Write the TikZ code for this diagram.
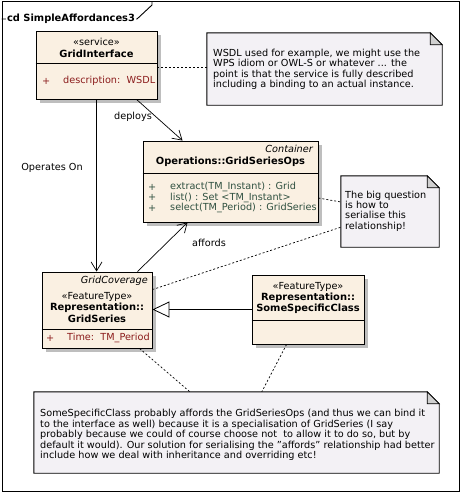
\documentclass[tikz,border=0pt]{standalone}
\usepackage{fontspec}
\setmainfont{DejaVu Sans}
\usetikzlibrary{arrows.meta,shadows}
\definecolor{classfill}{HTML}{FAF0E2}
\definecolor{notefill}{HTML}{F3F1F5}
\definecolor{shadowc}{HTML}{BEBEBE}
\definecolor{foldc}{HTML}{D0D0D0}
\definecolor{attrc}{HTML}{8B1C1C}
\definecolor{opc}{HTML}{2F5040}
\tikzset{
  txt/.style={font=\fontsize{9.7}{10.4}\selectfont, inner sep=0pt},
  bold/.style={txt, font=\fontsize{9.9}{10.4}\selectfont\bfseries},
  ital/.style={txt, font=\fontsize{9.7}{10.4}\selectfont\itshape},
  classbox/.style={draw=black, line width=0.9pt, fill=classfill, inner sep=0pt,
    drop shadow={shadow xshift=4pt, shadow yshift=-4pt, fill=shadowc, opacity=1}},
  notebox/.style={inner sep=0pt},
  noteline/.style={draw=black, line width=0.9pt, fill=notefill},
  divider/.style={line width=0.9pt},
  assoc/.style={line width=0.7pt, -{Straight Barb[length=9pt,width=11pt,line width=0.7pt]}},
  gen/.style={line width=0.8pt, -{Triangle[open,length=17pt,width=16pt,line width=0.8pt,fill=white]}},
  anchorline/.style={line width=0.7pt, dash pattern=on 2pt off 2pt},
  attr/.style={txt, text=attrc},
  oper/.style={txt, text=opc}
}
\newcommand{\drawnote}[1]{%
  \path[noteline] (#1.south west) -- (#1.north west) -- ([xshift=-12pt]#1.north east)
    -- ([yshift=-12pt]#1.north east) -- (#1.south east) -- cycle;
  \path[draw=black, line width=0.7pt, fill=foldc] ([xshift=-12pt]#1.north east)
    -- ([xshift=-12pt,yshift=-12pt]#1.north east) -- ([yshift=-12pt]#1.north east) -- cycle;}
\begin{document}
\begin{tikzpicture}[x=1pt,y=-1pt]
\useasboundingbox (0,0) rectangle (461,493);
% frame
\node[draw=black, line width=0.9pt, minimum width=457pt, minimum height=489.5pt, inner sep=0pt] (frame) at (230.5,246.25) {};
\coordinate (tabA) at (137,19);
\coordinate (tabB) at (152,5);
\draw[line width=0.9pt] (frame.west |- tabA) -- (tabA) -- (tabB) -- (tabB |- frame.north);
\node[bold, fill=white, inner xsep=1pt, inner ysep=2pt] (title) at (71,19) {cd SimpleAffordances3};

% GridInterface
\node[classbox, minimum width=121pt, minimum height=68pt] (gi) at (96.5,65) {};
\draw[divider] (gi.west |- 0,63) -- (gi.east |- 0,63);
\node[txt] (gis) at (96.5,42) {«service»};
\node[bold] (gin) at (96.5,53.5) {GridInterface};
\node[attr, anchor=west] (gip) at (42,81) {+};
\node[attr, anchor=west] (gia) at (63,81) {description:\ \ WSDL};

% Operations
\node[classbox, minimum width=175pt, minimum height=81pt] (ops) at (230.5,181.5) {};
\draw[divider] (ops.west |- 0,173) -- (ops.east |- 0,173);
\node[ital, anchor=east] (opsst) at (313,149) {Container};
\node[bold] (opsn) at (230.5,162) {Operations::GridSeriesOps};
\node[oper, anchor=west] (opp1) at (148,187) {+};
\node[oper, anchor=west] (opp2) at (148,197.5) {+};
\node[oper, anchor=west] (opp3) at (148,208) {+};
\node[oper, anchor=west] (opo1) at (170,187) {extract(TM\_Instant) : Grid};
\node[oper, anchor=west] (opo2) at (170,197.5) {list() : Set <TM\_Instant>};
\node[oper, anchor=west] (opo3) at (170,208) {select(TM\_Period) : GridSeries};

% GridSeries
\node[classbox, minimum width=110pt, minimum height=76pt] (gs) at (97,310) {};
\draw[divider] (gs.west |- 0,329) -- (gs.east |- 0,329);
\node[ital, anchor=east] (gsst) at (148,281) {GridCoverage};
\node[txt] (gsft) at (97,297) {«FeatureType»};
\node[bold] (gsn1) at (97,308) {Representation::};
\node[bold] (gsn2) at (97,319) {GridSeries};
\node[attr, anchor=west] (gsp) at (46,338) {+};
\node[attr, anchor=west] (gsa) at (67,338) {Time:\ \ TM\_Period};

% SomeSpecificClass
\node[classbox, minimum width=112pt, minimum height=69pt] (ssc) at (308,309.5) {};
\draw[divider] (ssc.west |- 0,320) -- (ssc.east |- 0,320);
\node[txt] (sscft) at (308,287) {«FeatureType»};
\node[bold] (sscn1) at (308,298) {Representation::};
\node[bold] (sscn2) at (308,309) {SomeSpecificClass};

% notes
\node[notebox, minimum width=235pt, minimum height=72pt] (wsdl) at (324.5,69) {};
\drawnote{wsdl}
\node[txt, anchor=west, align=left] (wsdlt) at (213,69.5) {WSDL used for example, we might use the\\WPS idiom or OWL-S or whatever ... the\\point is that the service is fully described\\including a binding to an actual instance.};

\node[notebox, minimum width=98pt, minimum height=71pt] (bq) at (390,211.5) {};
\drawnote{bq}
\node[txt, anchor=west, align=left] (bqt) at (345,211) {The big question\\is how to\\serialise this\\relationship!};

\node[notebox, minimum width=405pt, minimum height=81pt] (bn) at (236.5,432.5) {};
\drawnote{bn}
\node[txt, anchor=west, align=left] (bnt) at (40,435) {SomeSpecificClass probably affords the GridSeriesOps (and thus we can bind it\\to the interface as well) because it is a specialisation of GridSeries (I say\\probably because we could of course choose not\ \ to allow it to do so, but by\\default it would). Our solution for serialising the "affords" relationship had better\\include how we deal with inheritance and overriding etc!};

% connectors
\draw[assoc] ([xshift=101pt]gi.south west) -- ([xshift=40pt]ops.north west);
\node[txt] (deplbl) at (133,117) {deploys};
\draw[assoc] ([xshift=61pt]gi.south west) -- ([xshift=55pt]gs.north west);
\node[txt] (oplbl) at (52,168) {Operates On};
\draw[assoc] ([xshift=96pt]gs.north west) -- ([xshift=45pt]ops.south west);
\node[txt] (afflbl) at (209,243) {affords};
\draw[gen] (ssc.west) -- (gs.east |- ssc.west);

\draw[anchorline] (gi.east |- 0,67) -- (wsdl.west |- 0,67);
\draw[anchorline] ([yshift=-16.5pt]ops.east) -- ([yshift=9.5pt]bq.west);
\draw[anchorline] ([yshift=-18pt]gs.north east) -- ([yshift=20pt]bq.south west);
\draw[anchorline] ([xshift=98pt]gs.south west) -- ([xshift=156pt]bn.north west);
\draw[anchorline] ([xshift=35pt]ssc.south west) -- ([xshift=228pt]bn.north west);
\end{tikzpicture}
\end{document}
